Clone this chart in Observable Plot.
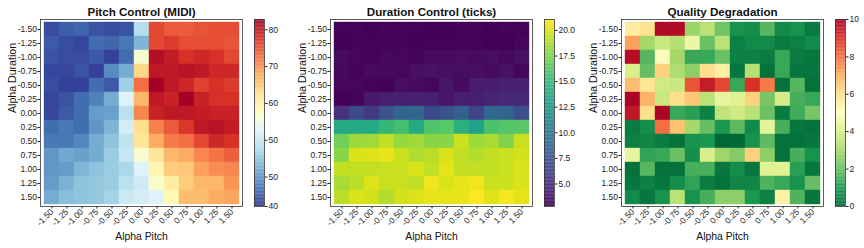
<!DOCTYPE html>
<html><head><meta charset="utf-8">
<script src="https://cdn.jsdelivr.net/npm/d3@7"></script>
<script src="https://cdn.jsdelivr.net/npm/@observablehq/plot@0.6"></script>
<style>
body{margin:0;background:#fff;}
#chart{position:relative;width:864px;height:248px;overflow:hidden;background:#fff;}
#chart svg{position:absolute;top:0;overflow:visible;background:transparent;}
</style></head><body><div id="chart"></div>
<script>
const alphaValues = [-1.5,-1.25,-1,-0.75,-0.5,-0.25,0,0.25,0.5,0.75,1,1.25,1.5];
const xTickLabels = ["-1.50","-1.25","-1.00","-0.75","-0.50","-0.25","0.00","0.25","0.50","0.75","1.00","1.25","1.50"];
const yTickLabels = ["-1.50","-1.25","-1.00","-0.75","-0.50","-0.25","0.00","0.25","0.50","0.75","1.00","1.25","1.50"];
const qualityYTickLabels = ["-1.50","-1.25","-1.00","-0.75","-0.50","-0.25","0.00","0.25","0.00","0.75","1.00","1.25","1.50"];
const panelTitles = ["Pitch Control (MIDI)","Duration Control (ticks)","Quality Degradation"];
const xAxisLabel = "Alpha Pitch";
const yAxisLabel = "Alpha Duration";

// rows: alpha duration -1.50 .. 1.50 ; columns: alpha pitch -1.50 .. 1.50
const pitchMIDI = [
  [33.8,35.4,35.9,34.3,33.8,34.3,48.3,75.7,74.2,74.2,74.7,75.2,75.2],
  [34.9,33.8,33.3,36.4,35.9,37.4,43.2,75.7,76.7,75.2,75.2,75.2,74.7],
  [34.3,33.8,33.8,34.9,32.8,36.4,55.9,81.3,79.8,77.7,78.7,77.7,75.7],
  [33.3,33.3,34.3,32.8,39.1,42.2,63.5,80.3,80.3,80.8,80.3,78.7,78.7],
  [33.8,32.8,32.8,36.4,34.9,46.2,72.6,82.8,80.3,78.7,76.2,77.7,76.7],
  [33.3,34.3,36.4,38.2,42.2,52.3,66.5,80.3,79.2,82.8,79.2,77.7,77.7],
  [33.3,34.9,36.4,40.6,41.1,48.8,70.6,79.2,80.3,80.3,79.8,79.2,79.2],
  [36.4,37.4,36.4,40.1,43.2,51.3,62.5,71.1,74.2,77.2,80.3,80.8,79.8],
  [37.4,37.4,38.6,42.2,44.7,49.3,61.5,67.6,71.6,72.6,75.7,78.7,77.7],
  [40.1,41.7,41.1,42.2,45.7,49.8,55.9,61.5,66.5,67.6,70.6,72.1,73.7],
  [40.1,40.6,43.2,44.7,45.7,47.2,52.3,58.9,64.5,65.0,68.6,70.1,70.6],
  [40.6,42.7,44.7,45.2,45.7,48.8,50.8,56.4,60.4,64.5,66.5,66.5,69.6],
  [42.2,44.2,44.7,45.2,46.7,50.3,51.3,52.3,58.4,66.0,66.0,67.6,68.1]
];
const durationTicks = [
  [3.0,3.0,2.9,3.0,3.0,3.0,2.9,2.9,3.0,3.0,2.9,3.0,3.0],
  [2.9,3.0,3.0,3.0,3.0,2.9,3.0,3.0,3.0,3.0,2.9,2.9,3.1],
  [3.3,3.1,3.0,3.2,3.1,3.0,3.3,3.3,3.4,3.3,3.4,3.2,3.6],
  [3.2,3.0,3.3,3.2,3.1,3.5,3.6,3.5,3.4,3.5,3.3,3.7,3.1],
  [3.1,3.1,3.0,2.9,3.4,3.3,3.1,3.8,3.3,4.2,4.2,4.4,4.5],
  [2.9,3.0,4.0,4.3,4.4,4.4,4.4,3.8,4.3,4.3,4.6,4.8,4.9],
  [5.5,6.8,5.9,7.4,8.7,8.8,6.8,7.4,8.3,6.5,8.9,8.7,7.2],
  [13.8,13.8,13.9,14.9,15.6,13.8,16.0,16.3,14.5,13.4,15.8,16.2,16.3],
  [17.1,18.4,18.5,19.3,18.2,18.5,17.8,17.8,19.6,18.4,18.7,17.6,19.5],
  [17.8,20.0,20.1,20.4,19.6,18.9,19.2,20.0,19.3,19.0,19.4,19.6,19.8],
  [19.4,19.3,19.3,19.5,19.5,20.0,19.3,20.3,19.4,19.4,19.3,19.6,20.0],
  [18.7,19.2,20.1,19.5,19.5,19.3,20.7,20.0,20.3,20.7,19.6,19.6,20.0],
  [19.2,20.0,19.8,19.0,19.8,20.1,20.4,20.3,20.4,21.0,20.1,20.8,20.3]
];
const qualityDegradation = [
  [5.6,5.9,9.8,9.8,2.8,3.4,2.2,0.9,0.8,1.8,0.7,0.9,0.4],
  [7.2,3.0,3.7,3.3,4.5,2.1,3.4,0.5,0.7,0.7,0.4,0.5,0.7],
  [9.7,1.8,4.9,3.0,1.4,1.4,2.1,0.5,0.5,0.4,1.4,0.4,0.3],
  [4.0,2.0,6.3,3.2,2.6,6.0,5.5,0.3,3.3,0.2,1.4,0.3,0.3],
  [6.7,5.8,3.8,3.7,8.4,9.4,8.6,1.4,9.0,7.8,0.2,1.8,0.2],
  [9.9,6.9,3.7,6.0,6.5,3.4,4.4,4.2,6.3,2.3,3.9,1.6,1.4],
  [9.5,6.0,9.9,1.4,1.2,0.5,3.5,3.8,3.4,2.1,0.4,1.5,2.3],
  [0.4,0.8,8.0,6.6,3.0,2.0,1.0,1.9,0.7,4.3,1.6,0.3,0.2],
  [0.5,0.6,0.4,0.2,0.9,1.0,0.0,0.05,0.9,1.9,0.2,0.2,0.3],
  [4.4,1.3,1.4,2.1,0.8,4.0,2.9,2.5,6.3,2.6,0.2,1.6,0.9],
  [0.2,1.8,0.2,0.2,1.6,1.6,0.3,0.8,0.3,4.2,4.2,1.2,0.3],
  [0.3,0.5,0.3,0.8,1.3,0.4,0.2,0.6,0.6,1.7,1.4,0.9,2.0],
  [0.7,0.3,0.9,3.4,0.9,1.6,2.6,2.6,1.0,0.5,5.5,1.7,0.3]
];
const pitchRange = [32, 82.8];
const durationRange = [2.8, 21.07];
const qualityRange = [0, 10];
const pitchBarTicks = [80,70,60,50,40,32];
const pitchBarLabels = ["80","70","60","50","50","40"];
const durationBarTicks = [20,17.5,15,12.5,10,7.5,5];
const durationBarLabels = ["20.0","17.5","15.0","12.5","10.0","7.5","5.0"];
const qualityBarTicks = [0,2,4,6,8,10];
const qualityBarLabels = ["0","2","4","6","8","10"];

const FONT = "'Liberation Sans', Arial, Helvetica, sans-serif";
const chart = document.getElementById("chart");

// piecewise-linear colour scale through the 11 ColorBrewer stops (as matplotlib does)
function brewerScale(range, scheme, reverse) {
  const [lo, hi] = range;
  const colors = scheme[11].slice();
  if (reverse) colors.reverse();
  return {type: "linear", domain: d3.range(11).map(i => lo + (hi - lo) * i / 10), range: colors, interpolate: "rgb", clamp: true};
}

function heatmap({matrix, title, yLabels, color, frameLeft}) {
  const cells = [];
  matrix.forEach((row, i) => row.forEach((v, j) => cells.push({ap: alphaValues[j], ad: alphaValues[i], v})));
  const xMap = new Map(alphaValues.map((a, i) => [a, xTickLabels[i]]));
  const yMap = new Map(alphaValues.map((a, i) => [a, yLabels[i]]));
  const ML = 42, MR = 8, FW = 202;
  const svg = Plot.plot({
    width: ML + FW + MR, height: 248,
    marginLeft: ML, marginRight: MR, marginTop: 19, marginBottom: 42,
    style: {fontFamily: FONT, fontSize: "8.5px", color: "#222", background: "transparent", overflow: "visible"},
    x: {type: "band", domain: alphaValues, padding: 0, tickFormat: d => xMap.get(d), tickRotate: -45, tickSize: 2.5, tickPadding: 1.5, label: null},
    y: {type: "band", domain: alphaValues, padding: 0, tickFormat: d => yMap.get(d), tickSize: 2.5, tickPadding: 1, label: null},
    color,
    marks: [
      Plot.cell(cells, {x: "ap", y: "ad", fill: "v", stroke: "v", strokeWidth: 0.4, inset: 0}),
      Plot.frame({stroke: "#333", strokeWidth: 0.8}),
      Plot.text([title], {text: d => d, frameAnchor: "top", lineAnchor: "middle", dy: -7.5, fontWeight: "bold", fontSize: 11.6, fill: "#111"}),
      Plot.text([xAxisLabel], {text: d => d, frameAnchor: "bottom", lineAnchor: "middle", dy: 30, fontSize: 10.4, fill: "#111"}),
      Plot.text([yAxisLabel], {text: d => d, frameAnchor: "left", lineAnchor: "middle", dx: -28, rotate: -90, fontSize: 10.6, fill: "#111"})
    ]
  });
  svg.style.left = (frameLeft - ML) + "px";
  chart.appendChild(svg);
}

function colorbar({color, range, ticks, labels, barLeft}) {
  const [lo, hi] = range;
  const n = 240;
  const grad = d3.range(n).map(i => ({a: lo + (hi - lo) * i / n, b: lo + (hi - lo) * Math.min(n, i + 1.2) / n, m: lo + (hi - lo) * (i + 0.5) / n}));
  const lab = new Map(ticks.map((t, i) => [t, labels[i]]));
  const svg = Plot.plot({
    width: 10 + 32, height: 248,
    marginLeft: 0, marginRight: 32, marginTop: 19, marginBottom: 42,
    style: {fontFamily: FONT, fontSize: "8.5px", color: "#222", background: "transparent", overflow: "visible"},
    x: {domain: [0, 1], axis: null},
    y: {domain: [lo, hi], axis: "right", ticks, tickFormat: d => lab.get(d), tickSize: 2.5, tickPadding: 1.5, label: null},
    color,
    marks: [
      Plot.rect(grad, {x1: 0, x2: 1, y1: "a", y2: "b", fill: "m"}),
      Plot.frame({stroke: "#333", strokeWidth: 0.8})
    ]
  });
  svg.style.left = barLeft + "px";
  chart.appendChild(svg);
}

const pitchColor = brewerScale(pitchRange, d3.schemeRdYlBu, true);
const durationColor = {type: "linear", scheme: "viridis", domain: durationRange};
const qualityColor = brewerScale(qualityRange, d3.schemeRdYlGn, true);

heatmap({matrix: pitchMIDI, title: panelTitles[0], yLabels: yTickLabels, color: pitchColor, frameLeft: 40});
colorbar({color: pitchColor, range: pitchRange, ticks: pitchBarTicks, labels: pitchBarLabels, barLeft: 254});
heatmap({matrix: durationTicks, title: panelTitles[1], yLabels: yTickLabels, color: durationColor, frameLeft: 330.4});
colorbar({color: durationColor, range: durationRange, ticks: durationBarTicks, labels: durationBarLabels, barLeft: 544.4});
heatmap({matrix: qualityDegradation, title: panelTitles[2], yLabels: qualityYTickLabels, color: qualityColor, frameLeft: 620.7});
colorbar({color: qualityColor, range: qualityRange, ticks: qualityBarTicks, labels: qualityBarLabels, barLeft: 835});
</script>
</body></html>
